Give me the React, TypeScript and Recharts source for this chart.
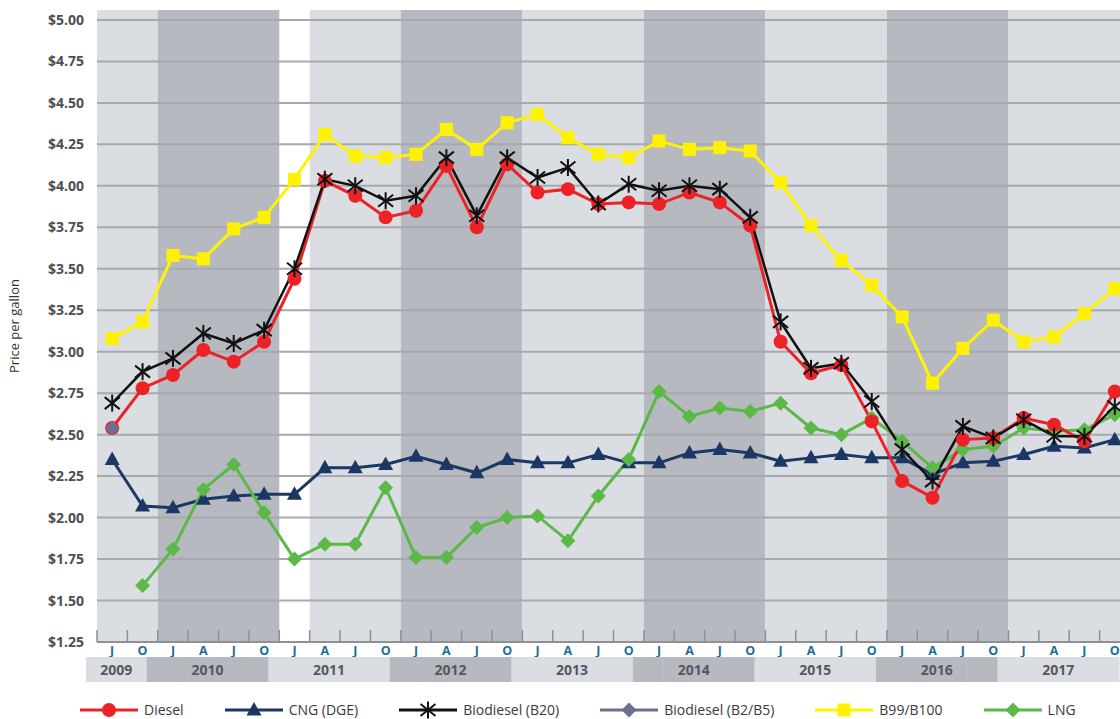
import React from "react";
import { LineChart, Line, XAxis, YAxis, ReferenceArea, ReferenceLine } from "recharts";

// quarterly observations, Jul 2009 .. Oct 2017
const periods = [
  "Jul 2009", "Oct 2009",
  "Jan 2010", "Apr 2010", "Jul 2010", "Oct 2010",
  "Jan 2011", "Apr 2011", "Jul 2011", "Oct 2011",
  "Jan 2012", "Apr 2012", "Jul 2012", "Oct 2012",
  "Jan 2013", "Apr 2013", "Jul 2013", "Oct 2013",
  "Jan 2014", "Apr 2014", "Jul 2014", "Oct 2014",
  "Jan 2015", "Apr 2015", "Jul 2015", "Oct 2015",
  "Jan 2016", "Apr 2016", "Jul 2016", "Oct 2016",
  "Jan 2017", "Apr 2017", "Jul 2017", "Oct 2017",
];

const diesel = [
  2.54, 2.78, 2.86, 3.01, 2.94, 3.06, 3.44, 4.03, 3.94, 3.81, 3.85, 4.12, 3.75, 4.13, 3.96, 3.98, 3.89,
  3.9, 3.89, 3.96, 3.9, 3.76, 3.06, 2.87, 2.92, 2.58, 2.22, 2.12, 2.47, 2.48, 2.6, 2.56, 2.46, 2.76,
];
const cng = [
  2.35, 2.07, 2.06, 2.11, 2.13, 2.14, 2.14, 2.3, 2.3, 2.32, 2.37, 2.32, 2.27, 2.35, 2.33, 2.33, 2.38,
  2.33, 2.33, 2.39, 2.41, 2.39, 2.34, 2.36, 2.38, 2.36, 2.36, 2.26, 2.33, 2.34, 2.38, 2.43, 2.42, 2.47,
];
const b20 = [
  2.69, 2.88, 2.96, 3.11, 3.05, 3.13, 3.5, 4.04, 4.0, 3.91, 3.94, 4.17, 3.82, 4.17, 4.05, 4.11, 3.89,
  4.01, 3.97, 4.0, 3.98, 3.81, 3.18, 2.9, 2.93, 2.7, 2.41, 2.22, 2.55, 2.48, 2.59, 2.49, 2.49, 2.67,
];
const b2b5 = [
  2.54, null, null, null, null, null, null, null, null, null, null, null, null, null, null, null, null,
  null, null, null, null, null, null, null, null, null, null, null, null, null, null, null, null, null,
];
const b99 = [
  3.08, 3.18, 3.58, 3.56, 3.74, 3.81, 4.04, 4.31, 4.18, 4.17, 4.19, 4.34, 4.22, 4.38, 4.43, 4.29, 4.19,
  4.17, 4.27, 4.22, 4.23, 4.21, 4.02, 3.76, 3.55, 3.4, 3.21, 2.81, 3.02, 3.19, 3.06, 3.09, 3.23, 3.38,
];
const lng = [
  null, 1.59, 1.81, 2.17, 2.32, 2.03, 1.75, 1.84, 1.84, 2.18, 1.76, 1.76, 1.94, 2.0, 2.01, 1.86, 2.13,
  2.35, 2.76, 2.61, 2.66, 2.64, 2.69, 2.54, 2.5, 2.6, 2.46, 2.3, 2.41, 2.43, 2.54, 2.52, 2.53, 2.62,
];

const priceTicks = [1.25, 1.5, 1.75, 2.0, 2.25, 2.5, 2.75, 3.0, 3.25, 3.5, 3.75, 4.0, 4.25, 4.5, 4.75, 5.0];

// shaded year bands in the plot (Jan 2011 is left white)
const bandStarts = ["Jul 2009", "Jan 2010", "Apr 2011", "Jan 2012", "Jan 2013", "Jan 2014", "Jan 2015", "Jan 2016", "Jan 2017"];
const bandEnds = ["Oct 2009", "Oct 2010", "Oct 2011", "Oct 2012", "Oct 2013", "Oct 2014", "Oct 2015", "Oct 2016", "Oct 2017"];

const data = periods.map((period, i) => ({
  period,
  diesel: diesel[i],
  cng: cng[i],
  b20: b20[i],
  b2b5: b2b5[i],
  b99: b99[i],
  lng: lng[i],
}));

const W = 1140;
const H = 719;
const M = { top: 10, right: 10, bottom: 37, left: 0 };
const Y_W = 97;
const BAND = (W - M.left - M.right - Y_W) / periods.length;
const YEAR_SHIFT = -11;
const TICK_TOP = 1.322; // small tick marks rising from the $1.25 baseline

const LIGHT = "#dadde1";
const DARK = "#b6b9c0";
const GRID = "#a6a9ad";
const AXIS = "#8d9095";
const FONT = "'Open Sans', 'Liberation Sans', sans-serif";

const C = {
  diesel: "#ec2227",
  cng: "#1b3865",
  b20: "#111111",
  b2b5: "#6c6f8f",
  b99: "#fff200",
  lng: "#5cb947",
};

function Marker({ shape, color, cx, cy }: { shape: string; color: string; cx: number; cy: number }) {
  if (shape === "circle") return <circle cx={cx} cy={cy} r={7} fill={color} />;
  if (shape === "square") return <rect x={cx - 6.5} y={cy - 6.5} width={13} height={13} fill={color} />;
  if (shape === "triangle")
    return <polygon points={`${cx},${cy - 8} ${cx + 7.5},${cy + 5.5} ${cx - 7.5},${cy + 5.5}`} fill={color} />;
  if (shape === "diamond")
    return <polygon points={`${cx},${cy - 7.5} ${cx + 7.5},${cy} ${cx},${cy + 7.5} ${cx - 7.5},${cy}`} fill={color} />;
  // asterisk
  return (
    <g stroke={color} strokeWidth={2}>
      <line x1={cx} y1={cy - 8.5} x2={cx} y2={cy + 8.5} />
      <line x1={cx - 7.5} y1={cy - 6} x2={cx + 7.5} y2={cy + 6} />
      <line x1={cx - 7.5} y1={cy + 6} x2={cx + 7.5} y2={cy - 6} />
    </g>
  );
}

const dotOf = (shape: string, color: string) => (p: any) => {
  if (p.cx == null || p.cy == null || p.value == null) return <g key={p.index} />;
  return (
    <g key={p.index}>
      <Marker shape={shape} color={color} cx={p.cx} cy={p.cy} />
    </g>
  );
};

function QuarterTick({ x, y, payload }: any) {
  return (
    <text x={x} y={y + 12.5} textAnchor="middle" fontSize={12.5} fontWeight={700} fill="#1d6e96" fontFamily={FONT}>
      {String(payload.value).charAt(0)}
    </text>
  );
}

function YearTick({ x, y, payload }: any) {
  const period = String(payload.value);
  const year = period.slice(4);
  const light = Number(year) % 2 === 1;
  const n = periods.filter((p) => p.endsWith(year)).length;
  return (
    <g>
      <rect x={x - BAND / 2 + YEAR_SHIFT} y={y} width={BAND + 0.6} height={25} fill={light ? LIGHT : DARK} />
      {period.startsWith("Oct") && (
        <text
          x={x + YEAR_SHIFT - ((n - 1) / 2) * BAND}
          y={y + 17.5}
          textAnchor="middle"
          fontSize={14}
          fontWeight={700}
          fill="#54585f"
          fontFamily={FONT}
        >
          {year}
        </text>
      )}
    </g>
  );
}

const legendItems = [
  { name: "Diesel", color: C.diesel, shape: "circle" },
  { name: "CNG (DGE)", color: C.cng, shape: "triangle" },
  { name: "Biodiesel (B20)", color: C.b20, shape: "asterisk" },
  { name: "Biodiesel (B2/B5)", color: C.b2b5, shape: "diamond" },
  { name: "B99/B100", color: C.b99, shape: "square" },
  { name: "LNG", color: C.lng, shape: "diamond" },
];

function LegendRow() {
  return (
    <div
      style={{
        position: "absolute",
        left: 80,
        top: 700,
        height: 20,
        display: "flex",
        alignItems: "center",
        gap: 41,
        fontFamily: FONT,
        fontSize: 14,
        lineHeight: "18px",
        color: "#3a3a3a",
        whiteSpace: "nowrap",
      }}
    >
      {legendItems.map((it) => (
        <div key={it.name} style={{ display: "flex", alignItems: "center" }}>
          <svg width={58} height={18} style={{ marginRight: 6 }}>
            <line x1={0} y1={9} x2={58} y2={9} stroke={it.color} strokeWidth={3} />
            <Marker shape={it.shape} color={it.color} cx={29} cy={9} />
          </svg>
          <span>{it.name}</span>
        </div>
      ))}
    </div>
  );
}

export default function App() {
  return (
    <div style={{ position: "absolute", left: 0, top: 0, width: 1120, height: H, overflow: "hidden", background: "#fff" }}>
      <LineChart width={W} height={H} data={data} margin={M}>
        <XAxis
          dataKey="period"
          scale="band"
          interval={0}
          height={15}
          tickSize={0}
          tickMargin={0}
          tickLine={false}
          axisLine={{ stroke: AXIS, strokeWidth: 2 }}
          tick={<QuarterTick />}
        />
        <XAxis
          xAxisId="year"
          dataKey="period"
          scale="band"
          interval={0}
          height={25}
          tickSize={0}
          tickMargin={0}
          tickLine={false}
          axisLine={false}
          tick={<YearTick />}
        />
        <YAxis
          type="number"
          domain={[1.25, 5.06]}
          allowDataOverflow
          ticks={priceTicks}
          width={Y_W}
          axisLine={false}
          tickLine={false}
          tickSize={0}
          tickMargin={13}
          tickFormatter={(v: number) => `$${v.toFixed(2)}`}
          tick={{ fontSize: 14, fontWeight: 700, fill: "#4b4f56", fontFamily: FONT }}
          label={{
            value: "Price per gallon",
            angle: -90,
            position: "insideLeft",
            offset: 14,
            style: { textAnchor: "middle", fontSize: 13, fill: "#333", fontFamily: FONT },
          }}
        />
        {bandStarts.map((s, i) => (
          <ReferenceArea
            key={s}
            x1={s}
            x2={bandEnds[i]}
            fill={i % 2 === 0 ? LIGHT : DARK}
            fillOpacity={1}
            stroke="none"
          />
        ))}
        {priceTicks.slice(1).map((v) => (
          <ReferenceLine key={v} y={v} stroke={GRID} strokeWidth={2} />
        ))}
        {periods.map((p) => (
          <ReferenceLine
            key={"t" + p}
            position="start"
            segment={[
              { x: p, y: priceTicks[0] },
              { x: p, y: TICK_TOP },
            ]}
            stroke={AXIS}
            strokeWidth={1.5}
          />
        ))}
        <Line dataKey="cng" stroke={C.cng} strokeWidth={3} dot={dotOf("triangle", C.cng)} activeDot={false} isAnimationActive={false} />
        <Line dataKey="lng" stroke={C.lng} strokeWidth={3} dot={dotOf("diamond", C.lng)} activeDot={false} isAnimationActive={false} />
        <Line dataKey="diesel" stroke={C.diesel} strokeWidth={3} dot={dotOf("circle", C.diesel)} activeDot={false} isAnimationActive={false} />
        <Line dataKey="b20" stroke={C.b20} strokeWidth={2.5} dot={dotOf("asterisk", C.b20)} activeDot={false} isAnimationActive={false} />
        <Line dataKey="b2b5" stroke={C.b2b5} strokeWidth={3} dot={dotOf("diamond", C.b2b5)} activeDot={false} isAnimationActive={false} />
        <Line dataKey="b99" stroke={C.b99} strokeWidth={3} dot={dotOf("square", C.b99)} activeDot={false} isAnimationActive={false} />
      </LineChart>
      <LegendRow />
    </div>
  );
}
